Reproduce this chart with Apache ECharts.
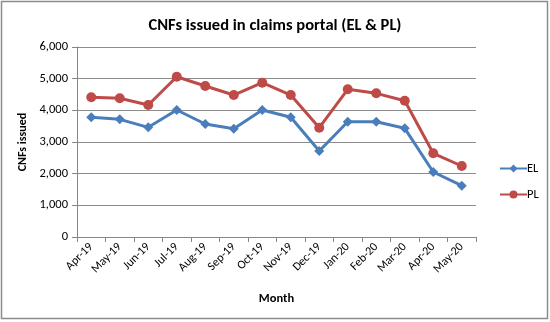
<!DOCTYPE html>
<html><head><meta charset="utf-8">
<script src="https://cdn.jsdelivr.net/npm/echarts@6/dist/echarts.min.js"></script>
<style>html,body{margin:0;padding:0;background:#fff}#c{width:550px;height:322px}</style>
</head><body><div id="c"></div>
<script>
const months = ['Apr-19','May-19','Jun-19','Jul-19','Aug-19','Sep-19','Oct-19','Nov-19','Dec-19','Jan-20','Feb-20','Mar-20','Apr-20','May-20'];
const elValues = [3780, 3716, 3463, 4010, 3568, 3420, 4010, 3780, 2716, 3641, 3641, 3432, 2052, 1620];
const plValues = [4411, 4380, 4168, 5062, 4768, 4484, 4872, 4484, 3451, 4663, 4537, 4305, 2643, 2242];
const yTicks = {min: 0, max: 6000, interval: 1000};

const chart = echarts.init(document.getElementById('c'), null, {renderer: 'canvas'});
const font = 'Calibri, Carlito, "Liberation Sans", "DejaVu Sans", sans-serif';
chart.setOption({
  animation: false,
  backgroundColor: '#fff',
  graphic: [{type: 'rect', shape: {x: 1.5, y: 1.5, width: 546, height: 317}, style: {fill: 'none', stroke: '#8c8c8c', lineWidth: 1.5}, silent: true}],
  title: {text: 'CNFs issued in claims portal (EL & PL)', left: 'center', top: 12,
    textStyle: {fontFamily: font, fontSize: 16.5, fontWeight: 'bold', color: '#000'}},
  legend: {orient: 'vertical', left: 494, top: 157, itemGap: 13, itemWidth: 27, itemHeight: 10,
    textStyle: {fontFamily: font, fontSize: 12.5, color: '#000', padding: [0,0,0,-5]},
    data: ['EL', 'PL']},
  grid: {left: 77, right: 74, top: 47, bottom: 85},
  xAxis: {type: 'category', data: months, boundaryGap: true,
    name: 'Month', nameLocation: 'middle', nameGap: 55,
    nameTextStyle: {fontFamily: font, fontSize: 12.5, fontWeight: 'bold', color: '#000'},
    axisLine: {lineStyle: {color: '#868686'}},
    axisTick: {show: true, alignWithLabel: false, length: 5, lineStyle: {color: '#868686'}},
    axisLabel: {rotate: 45, fontFamily: font, fontSize: 12, color: '#000', margin: 8, interval: 0}},
  yAxis: {type: 'value', min: yTicks.min, max: yTicks.max, interval: yTicks.interval,
    name: 'CNFs issued', nameLocation: 'middle', nameGap: 48,
    nameTextStyle: {fontFamily: font, fontSize: 12, fontWeight: 'bold', color: '#000'},
    axisLine: {show: true, lineStyle: {color: '#868686'}},
    axisTick: {show: true, length: 5, lineStyle: {color: '#868686'}},
    splitLine: {lineStyle: {color: '#8c8c8c'}},
    axisLabel: {fontFamily: font, fontSize: 12.5, color: '#000', margin: 9,
      formatter: v => v.toLocaleString('en-US')}},
  series: [
    {name: 'EL', type: 'line', data: elValues, symbol: 'diamond', symbolSize: 10,
      itemStyle: {color: '#4a7ebb'}, lineStyle: {width: 3, color: '#4a7ebb'}},
    {name: 'PL', type: 'line', data: plValues, symbol: 'circle', symbolSize: 10,
      itemStyle: {color: '#be4b48'}, lineStyle: {width: 3, color: '#be4b48'}}
  ]
});
</script></body></html>
